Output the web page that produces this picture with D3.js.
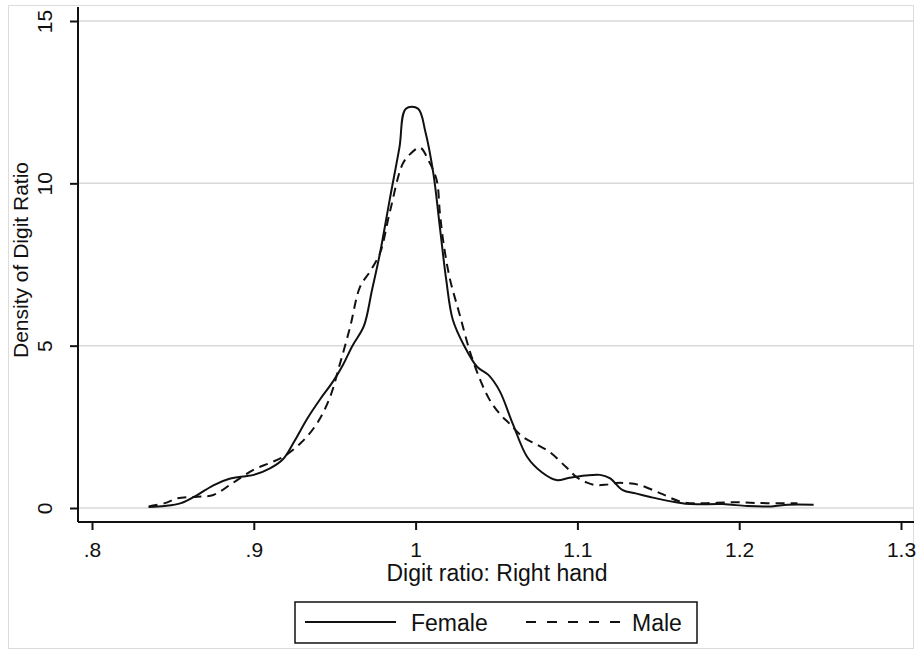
<!DOCTYPE html>
<html>
<head>
<meta charset="utf-8">
<script src="https://cdn.jsdelivr.net/npm/d3@7"></script>
<style>
  body { margin: 0; background: #fff; }
  svg text { font-family: "Liberation Sans", Arial, sans-serif; fill: #111; }
</style>
</head>
<body>
<div class="chart"></div>
<script>
// kernel density of right-hand digit ratio
var femaleX = [0.835, 0.845, 0.855, 0.865, 0.875, 0.885, 0.895, 0.9, 0.91, 0.918, 0.925, 0.933, 0.941, 0.949, 0.955, 0.961, 0.968, 0.973, 0.978, 0.984, 0.99, 0.994, 1.0015, 1.006, 1.011, 1.015, 1.019, 1.023, 1.03, 1.038, 1.045, 1.052, 1.06, 1.069, 1.078, 1.087, 1.095, 1.105, 1.114, 1.12, 1.128, 1.136, 1.145, 1.153, 1.161, 1.17, 1.19, 1.205, 1.22, 1.23, 1.246];
var femaleY = [0.03, 0.06, 0.15, 0.4, 0.7, 0.9, 0.98, 1.02, 1.22, 1.5, 2.05, 2.75, 3.35, 3.9, 4.4, 5.0, 5.6, 6.7, 7.85, 9.5, 11.1, 12.3, 12.3, 11.6, 10.3, 8.65, 7.0, 5.8, 5.0, 4.35, 4.1, 3.6, 2.6, 1.57, 1.1, 0.86, 0.93, 1.0, 1.02, 0.92, 0.55, 0.45, 0.34, 0.25, 0.18, 0.12, 0.12, 0.06, 0.05, 0.1, 0.1];
var maleX = [0.835, 0.845, 0.853, 0.865, 0.875, 0.887, 0.8995, 0.91, 0.918, 0.929, 0.939, 0.947, 0.953, 0.9595, 0.9656, 0.972, 0.978, 0.984, 0.992, 0.9966, 1.0027, 1.008, 1.013, 1.015, 1.017, 1.021, 1.027, 1.035, 1.045, 1.052, 1.058, 1.066, 1.075, 1.083, 1.093, 1.0995, 1.106, 1.112, 1.118, 1.124, 1.132, 1.139, 1.151, 1.165, 1.18, 1.196, 1.207, 1.217, 1.236];
var maleY = [0.05, 0.15, 0.3, 0.35, 0.4, 0.77, 1.17, 1.39, 1.57, 2.0, 2.6, 3.4, 4.4, 5.57, 6.8, 7.3, 7.85, 9.1, 10.6, 10.9, 11.1, 10.7, 10.1, 9.1, 8.25, 7.1, 6.0, 4.6, 3.4, 2.9, 2.6, 2.2, 1.95, 1.72, 1.26, 0.95, 0.78, 0.7, 0.72, 0.77, 0.76, 0.7, 0.46, 0.18, 0.15, 0.18, 0.16, 0.15, 0.15];

var xTicks = [0.8, 0.9, 1.0, 1.1, 1.2, 1.3];
var xTickLabels = [".8", ".9", "1", "1.1", "1.2", "1.3"];
var yTicks = [0, 5, 10, 15];
var yTickLabels = ["0", "5", "10", "15"];

var width = 918, height = 651;

var svg = d3.select(".chart")
    .append("svg")
    .attr("width", width)
    .attr("height", height);

// outer frame
svg.append("rect")
    .attr("x", 8.5).attr("y", 5.5)
    .attr("width", 905).attr("height", 643)
    .attr("fill", "none")
    .attr("stroke", "#dcdcdc")
    .attr("stroke-width", 1);

var x = d3.scaleLinear().domain([0.8, 1.3]).range([92, 901]);
var y = d3.scaleLinear().domain([0, 15]).range([508, 21]);

var plotLeft = 78, plotRight = 914, axisY = 522;

// grid lines
svg.selectAll(".grid")
    .data(yTicks)
    .enter()
    .append("line")
    .attr("x1", plotLeft).attr("x2", plotRight)
    .attr("y1", function (d) { return y(d); })
    .attr("y2", function (d) { return y(d); })
    .attr("stroke", "#d8d8d8")
    .attr("stroke-width", 1.5);

// X axis
var xAxis = svg.append("g")
    .attr("transform", "translate(0," + axisY + ")")
    .call(d3.axisBottom(x)
        .tickValues(xTicks)
        .tickSize(8)
        .tickPadding(12)
        .tickFormat(function (d, i) { return xTickLabels[i]; }));
xAxis.select(".domain").remove();
xAxis.selectAll(".tick line").attr("stroke", "#111").attr("stroke-width", 2);
xAxis.selectAll(".tick text").style("font-size", "21px");
xAxis.append("line")
    .attr("x1", plotLeft).attr("x2", plotRight)
    .attr("y1", 0).attr("y2", 0)
    .attr("stroke", "#111").attr("stroke-width", 2);

// Y axis
var yAxis = svg.append("g")
    .attr("transform", "translate(" + plotLeft + ",0)")
    .call(d3.axisLeft(y)
        .tickValues(yTicks)
        .tickSize(8)
        .tickFormat(function (d, i) { return yTickLabels[i]; }));
yAxis.select(".domain").remove();
yAxis.selectAll(".tick line").attr("stroke", "#111").attr("stroke-width", 2);
yAxis.selectAll(".tick text")
    .attr("x", 0).attr("y", 0).attr("dy", null)
    .attr("text-anchor", "middle")
    .attr("transform", "translate(-26,0) rotate(-90)")
    .style("font-size", "21px");
yAxis.append("line")
    .attr("x1", 0).attr("x2", 0)
    .attr("y1", 7).attr("y2", axisY)
    .attr("stroke", "#111").attr("stroke-width", 2);

// axis titles
svg.append("text")
    .attr("x", 497).attr("y", 581)
    .attr("text-anchor", "middle")
    .style("font-size", "23px")
    .text("Digit ratio: Right hand");

svg.append("text")
    .attr("transform", "translate(28,260) rotate(-90)")
    .attr("text-anchor", "middle")
    .style("font-size", "21px")
    .text("Density of Digit Ratio");

// curves
var line = d3.line()
    .x(function (d) { return x(d[0]); })
    .y(function (d) { return y(d[1]); })
    .curve(d3.curveCatmullRom.alpha(0.5));

var female = femaleX.map(function (v, i) { return [v, femaleY[i]]; });
var male = maleX.map(function (v, i) { return [v, maleY[i]]; });

svg.append("path")
    .datum(male)
    .attr("d", line)
    .attr("fill", "none")
    .attr("stroke", "#111")
    .attr("stroke-width", 2)
    .attr("stroke-dasharray", "9,6");

svg.append("path")
    .datum(female)
    .attr("d", line)
    .attr("fill", "none")
    .attr("stroke", "#111")
    .attr("stroke-width", 2);

// legend
var legend = svg.append("g");
legend.append("rect")
    .attr("x", 295).attr("y", 602)
    .attr("width", 402).attr("height", 41)
    .attr("fill", "#fff")
    .attr("stroke", "#111")
    .attr("stroke-width", 1.5);
legend.append("line")
    .attr("x1", 305).attr("x2", 396).attr("y1", 622).attr("y2", 622)
    .attr("stroke", "#111").attr("stroke-width", 2);
legend.append("text")
    .attr("x", 411).attr("y", 631)
    .style("font-size", "23px")
    .text("Female");
legend.append("line")
    .attr("x1", 526).attr("x2", 620).attr("y1", 622).attr("y2", 622)
    .attr("stroke", "#111").attr("stroke-width", 2)
    .attr("stroke-dasharray", "10,11");
legend.append("text")
    .attr("x", 632).attr("y", 631)
    .style("font-size", "23px")
    .text("Male");
</script>
</body>
</html>
